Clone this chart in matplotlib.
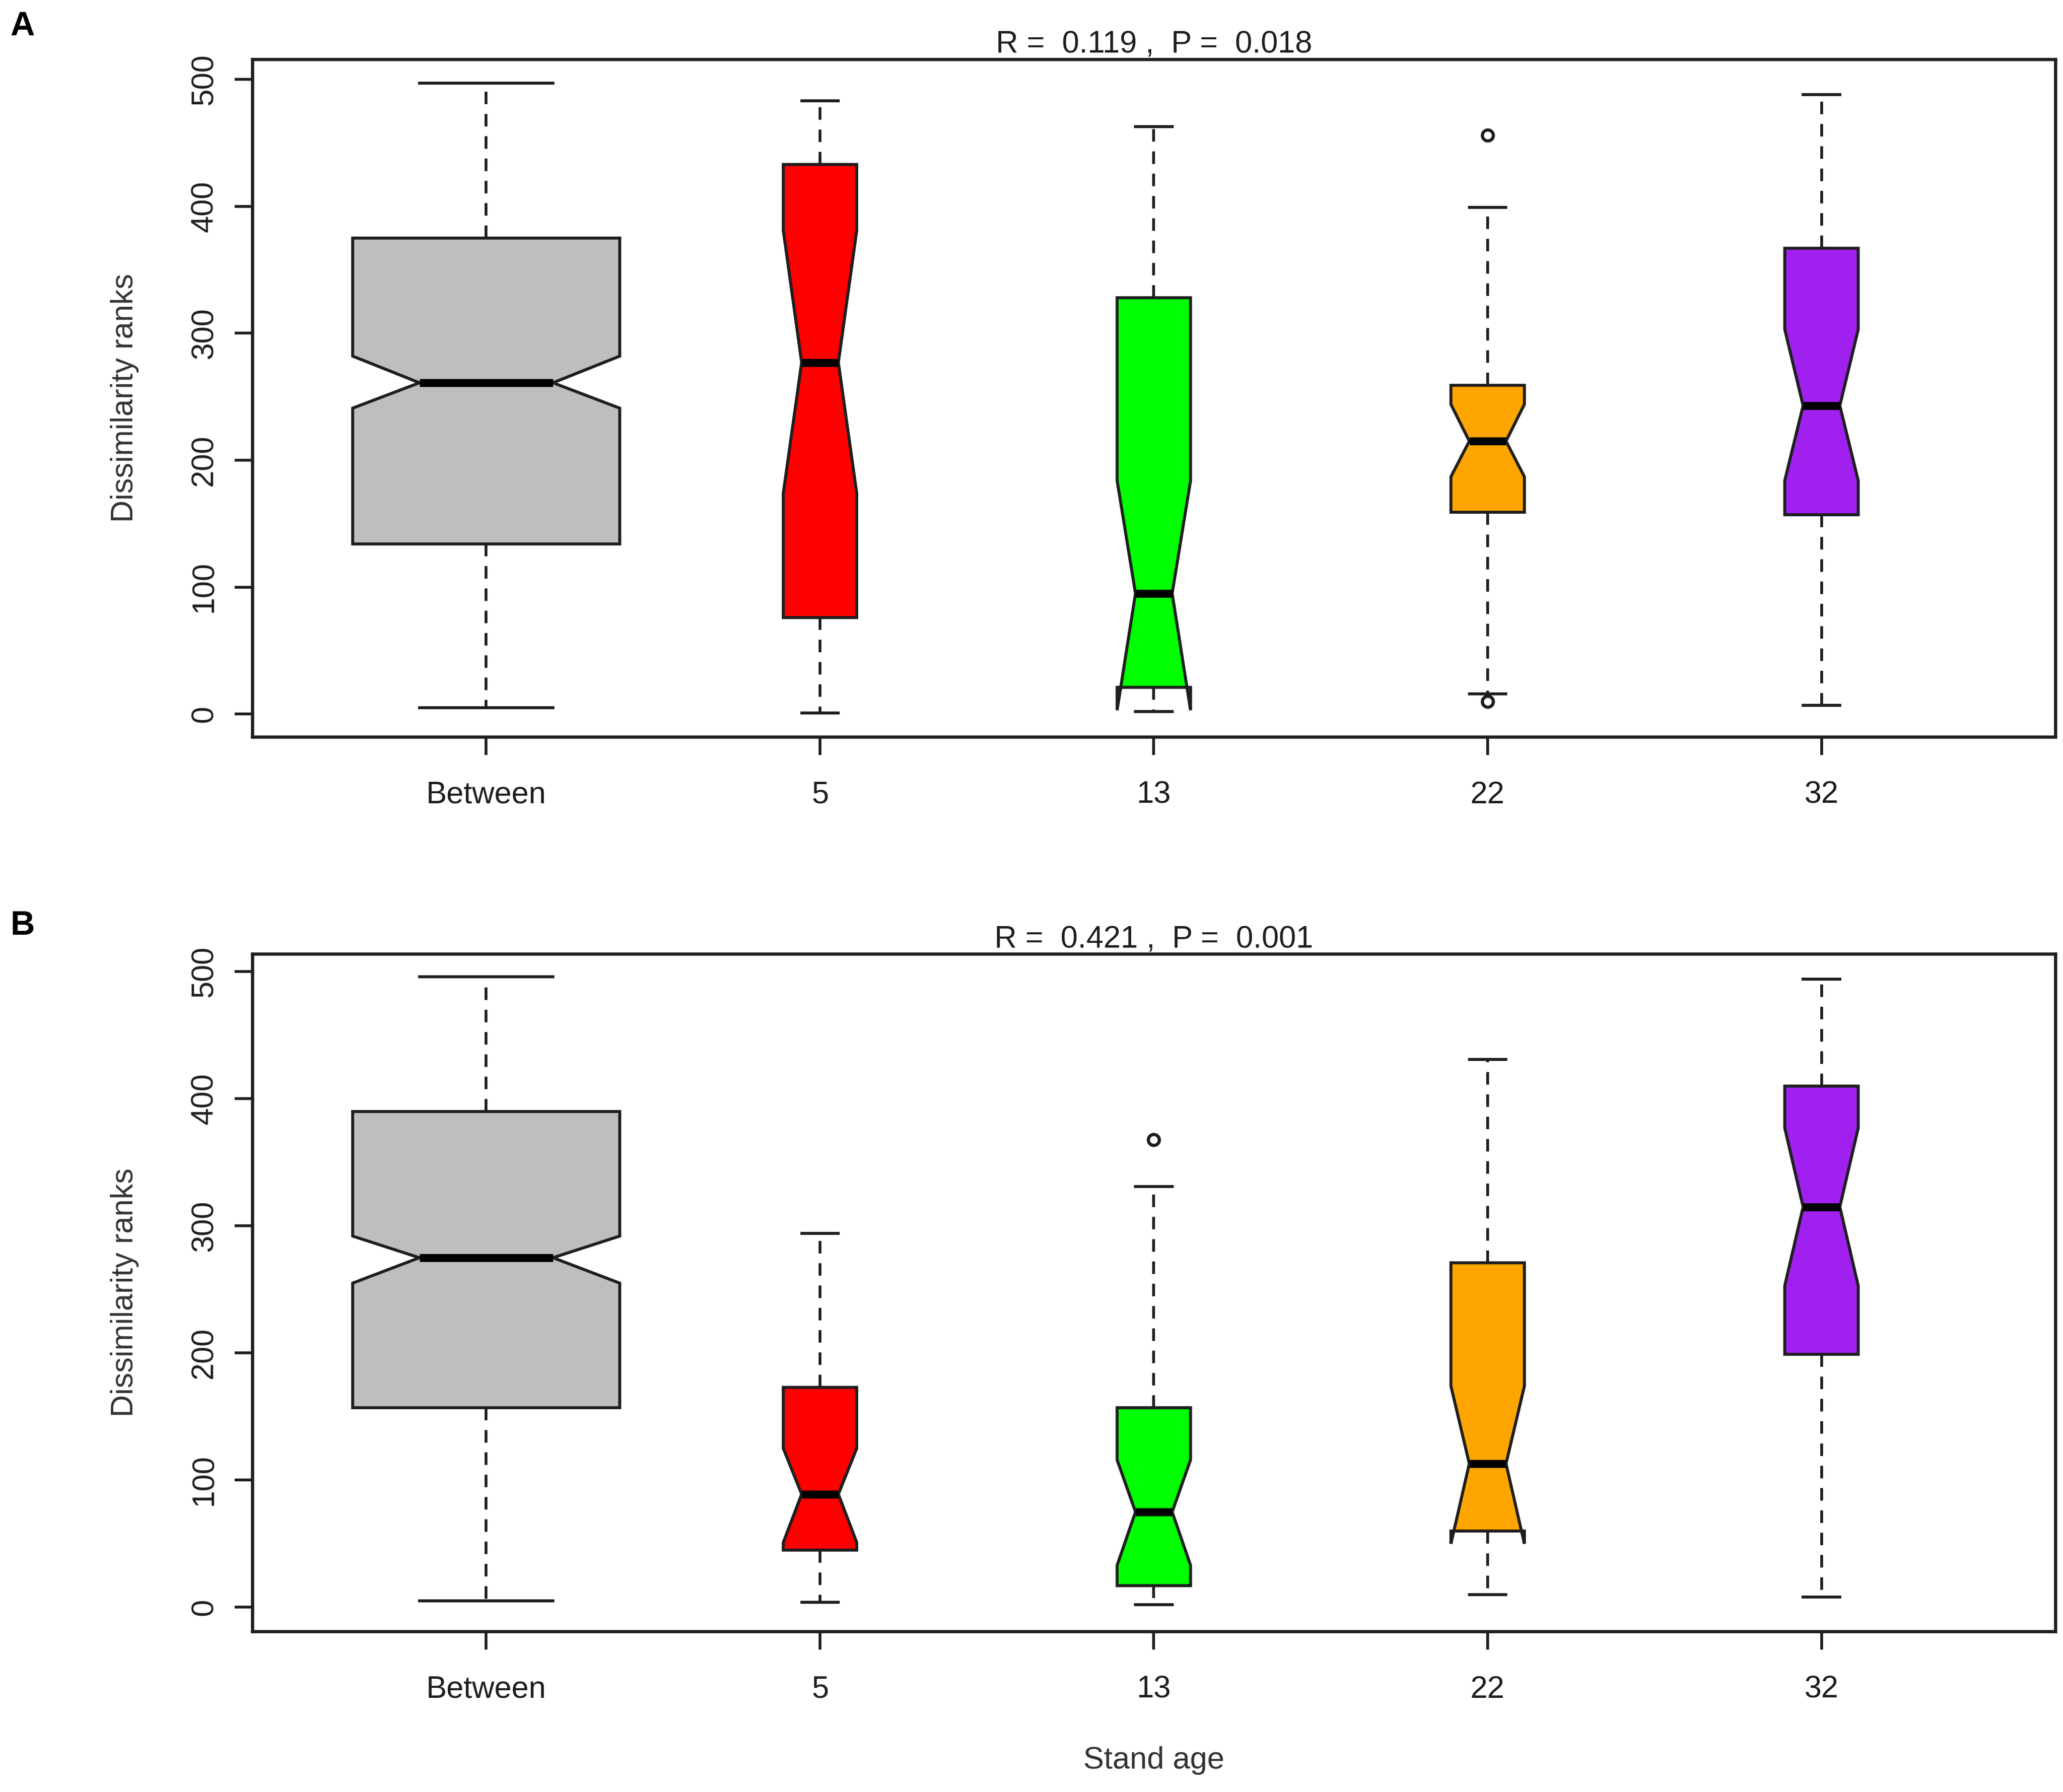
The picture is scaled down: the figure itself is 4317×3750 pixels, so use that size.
import matplotlib
matplotlib.use("Agg")
import matplotlib.pyplot as plt

plt.rcParams['font.family'] = ['Liberation Sans', 'DejaVu Sans']

groups = ["Between", "5", "13", "22", "32"]
box_colors = ["#BEBEBE", "#FF0000", "#00FF00", "#FFA500", "#A020F0"]

# panel A: R = 0.119, P = 0.018
whislo_a = [5, 1, 2, 16, 7]
q1_a = [134, 76, 21, 159, 157]
med_a = [261, 277, 95, 215, 243]
q3_a = [375, 433, 328, 259, 367]
whishi_a = [497, 483, 463, 399, 488]
cilo_a = [241, 174, 3, 187, 184]
cihi_a = [282, 381, 184, 244, 303]
fliers_a = [[], [], [], [456, 10], []]

# panel B: R = 0.421, P = 0.001
whislo_b = [5, 4, 2, 10, 8]
q1_b = [157, 45, 17, 60, 199]
med_b = [275, 89, 75, 113, 315]
q3_b = [390, 173, 157, 271, 410]
whishi_b = [496, 294, 331, 431, 494]
cilo_b = [255, 51, 33, 50, 253]
cihi_b = [292, 125, 116, 174, 377]
fliers_b = [[], [], [368], [], []]

r_vals = ["0.119", "0.421"]
p_vals = ["0.018", "0.001"]

ink = "#1e1e1e"


def make_stats(whislo, q1, med, q3, whishi, cilo, cihi, fliers):
    stats = []
    for i in range(len(groups)):
        stats.append(dict(whislo=whislo[i], q1=q1[i], med=med[i], q3=q3[i],
                          whishi=whishi[i], cilo=cilo[i], cihi=cihi[i],
                          fliers=fliers[i], label=groups[i]))
    return stats


def draw_panel(ax, stats, r, p, ylim):
    widths = [0.8, 0.22, 0.22, 0.22, 0.22]
    bp = ax.bxp(stats, positions=range(1, 6), widths=widths, shownotches=True,
                patch_artist=True, showfliers=True,
                boxprops=dict(edgecolor=ink, linewidth=1.5),
                medianprops=dict(color="black", linewidth=4, solid_capstyle="butt"),
                whiskerprops=dict(color=ink, linewidth=1.4, linestyle=(0, (4.5, 3.5))),
                capprops=dict(color=ink, linewidth=1.5),
                flierprops=dict(marker="o", markersize=5.5, markerfacecolor="none",
                                markeredgecolor=ink, markeredgewidth=1.6))
    for patch, c in zip(bp["boxes"], box_colors):
        patch.set_facecolor(c)

    ax.set_xlim(0.3, 5.7)
    ax.set_ylim(*ylim)
    ax.set_yticks([0, 100, 200, 300, 400, 500])
    ax.tick_params(axis="y", labelrotation=90, length=9, width=1.4, pad=8,
                   labelsize=15.5, colors=ink)
    for lab in ax.get_yticklabels():
        lab.set_va("center")
    ax.tick_params(axis="x", length=9, width=1.4, pad=13, labelsize=15.5, colors=ink)
    for sp in ax.spines.values():
        sp.set_linewidth(1.6)
        sp.set_color(ink)
    ax.set_title("R =  %s ,  P =  %s" % (r, p), fontsize=15.5, color=ink, pad=1)
    ax.text(-0.0708, 0.5, "Dissimilarity ranks", transform=ax.transAxes,
            rotation=90, ha="center", va="center", fontsize=15.5, color="#333333")


fig = plt.figure(figsize=(4317 / 300, 3750 / 300), dpi=300)
ax_a = fig.add_axes([0.1224, 0.5888, 0.8738, 0.3782])
ax_b = fig.add_axes([0.1224, 0.0896, 0.8738, 0.3781])

draw_panel(ax_a, make_stats(whislo_a, q1_a, med_a, q3_a, whishi_a, cilo_a, cihi_a, fliers_a),
           r_vals[0], p_vals[0], (-18, 516))
draw_panel(ax_b, make_stats(whislo_b, q1_b, med_b, q3_b, whishi_b, cilo_b, cihi_b, fliers_b),
           r_vals[1], p_vals[1], (-19, 514))

fig.text(0.5593, 0.0176, "Stand age", ha="center", va="center", fontsize=15.5, color="#333333")
fig.text(0.005, 0.994, "A", ha="left", va="top", fontsize=17, fontweight="bold")
fig.text(0.005, 0.492, "B", ha="left", va="top", fontsize=17, fontweight="bold")

fig.savefig("out.png", dpi=300)
